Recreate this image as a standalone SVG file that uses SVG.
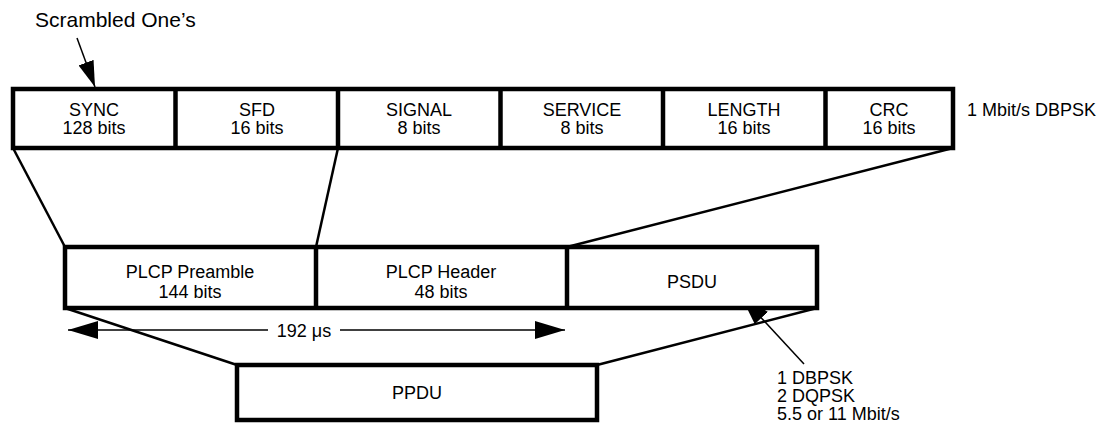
<svg xmlns="http://www.w3.org/2000/svg" width="1106" height="423" viewBox="0 0 1106 423">
<style>
  .box { fill: #fff; stroke: #000; stroke-width: 4.5; }
  .div { stroke: #000; stroke-width: 4.5; }
  .t { font-family: "Liberation Sans", Arial, sans-serif; font-size: 18px; fill: #000; text-anchor: middle; }
  .tl { font-family: "Liberation Sans", Arial, sans-serif; font-size: 18px; fill: #000; }
  .conn { stroke: #000; stroke-width: 2.5; fill: none; }
  .thin { stroke: #000; stroke-width: 1.5; fill: none; }
</style>
<defs>
  <marker id="ah" markerWidth="30" markerHeight="18" refX="30" refY="9" orient="auto" markerUnits="userSpaceOnUse">
    <path d="M0,0 L30,9 L0,18 Z" fill="#000"/>
  </marker>
  <marker id="ahs" markerWidth="26" markerHeight="16" refX="26" refY="8" orient="auto" markerUnits="userSpaceOnUse">
    <path d="M0,0 L26,8 L0,16 Z" fill="#000"/>
  </marker>
</defs>

<g id="connectors">
  <line class="conn" x1="13" y1="148" x2="65" y2="247"/>
  <line class="conn" x1="338" y1="148" x2="316" y2="247"/>
  <line class="conn" x1="953" y1="148" x2="567" y2="247"/>
  <line class="conn" x1="65" y1="308" x2="237" y2="365"/>
  <line class="conn" x1="817" y1="308" x2="597" y2="365"/>
  <line class="thin" x1="77" y1="38" x2="95" y2="87" marker-end="url(#ahs)"/>
  <line class="thin" x1="804" y1="364" x2="741" y2="296" marker-end="url(#ah)"/>
  <line class="thin" x1="268" y1="330" x2="68" y2="330" marker-end="url(#ah)"/>
  <line class="thin" x1="340" y1="330" x2="565" y2="330" marker-end="url(#ah)"/>
</g>

<g id="scrambled">
  <text class="tl" x="35" y="27" style="font-size:21px">Scrambled One’s</text>
</g>

<g id="top-row">
  <rect class="box" x="13" y="89" width="940" height="59"/>
  <line class="div" x1="175.5" y1="89" x2="175.5" y2="148"/>
  <line class="div" x1="338" y1="89" x2="338" y2="148"/>
  <line class="div" x1="500.5" y1="89" x2="500.5" y2="148"/>
  <line class="div" x1="663" y1="89" x2="663" y2="148"/>
  <line class="div" x1="825.5" y1="89" x2="825.5" y2="148"/>
</g>
<g id="sync"><text class="t" x="94" y="116">SYNC</text><text class="t" x="94" y="134">128 bits</text></g>
<g id="sfd"><text class="t" x="257" y="116">SFD</text><text class="t" x="257" y="134">16 bits</text></g>
<g id="signal"><text class="t" x="419" y="116">SIGNAL</text><text class="t" x="419" y="134">8 bits</text></g>
<g id="service"><text class="t" x="582" y="116">SERVICE</text><text class="t" x="582" y="134">8 bits</text></g>
<g id="length"><text class="t" x="744" y="116">LENGTH</text><text class="t" x="744" y="134">16 bits</text></g>
<g id="crc"><text class="t" x="889" y="116">CRC</text><text class="t" x="889" y="134">16 bits</text></g>
<g id="rate-label"><text class="tl" x="967" y="116">1 Mbit/s DBPSK</text></g>

<g id="mid-row">
  <rect class="box" x="65" y="247" width="752" height="61"/>
  <line class="div" x1="316" y1="247" x2="316" y2="308"/>
  <line class="div" x1="567" y1="247" x2="567" y2="308"/>
</g>
<g id="preamble"><text class="t" x="190" y="278">PLCP Preamble</text><text class="t" x="190" y="298">144 bits</text></g>
<g id="header"><text class="t" x="441" y="278">PLCP Header</text><text class="t" x="441" y="298">48 bits</text></g>
<g id="psdu"><text class="t" x="692" y="288">PSDU</text></g>

<g id="duration"><text class="t" x="304" y="337">192 μs</text></g>

<g id="ppdu">
  <rect class="box" x="237" y="365" width="360" height="55"/>
  <text class="t" x="417" y="399">PPDU</text>
</g>

<g id="modulation">
  <text class="tl" x="777" y="384">1 DBPSK</text>
  <text class="tl" x="777" y="402">2 DQPSK</text>
  <text class="tl" x="777" y="420">5.5 or 11 Mbit/s</text>
</g>
</svg>
